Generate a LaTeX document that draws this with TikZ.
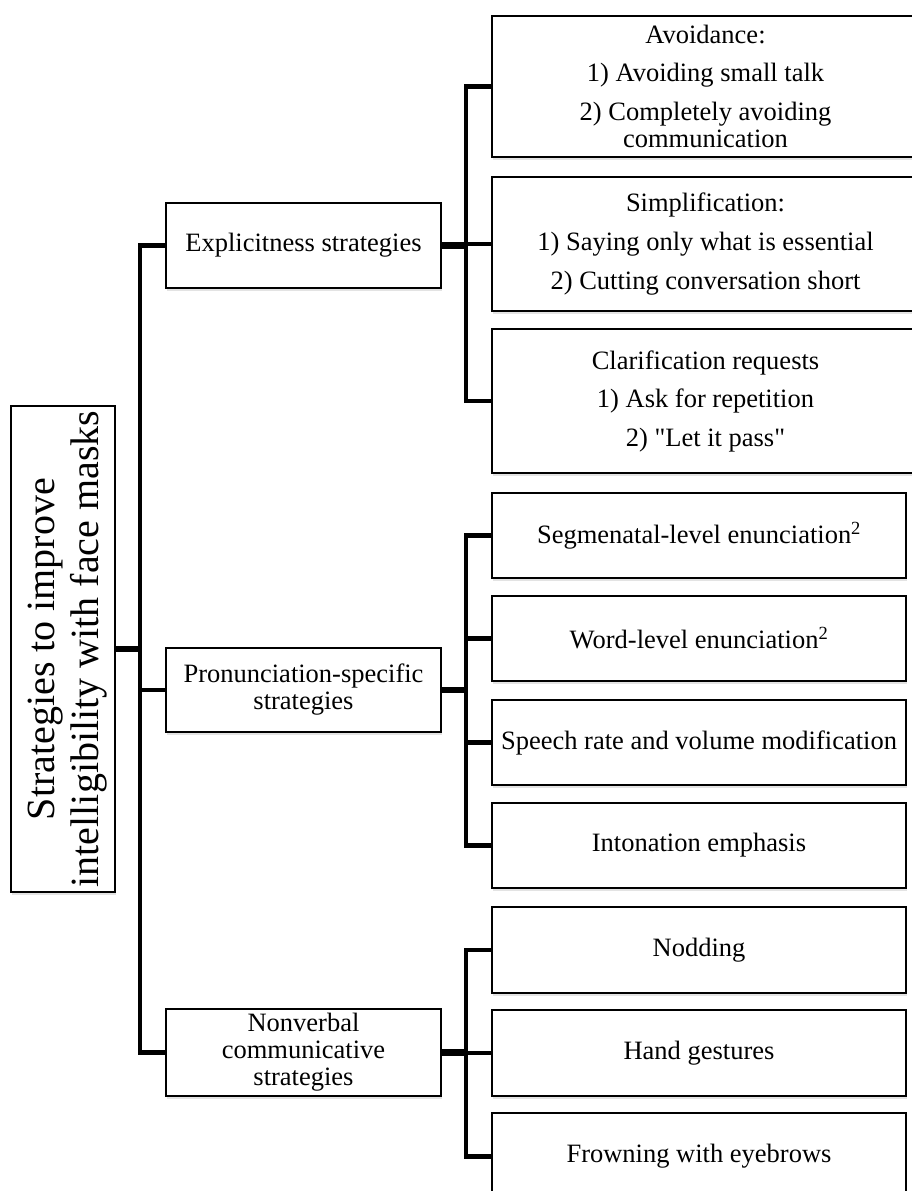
\documentclass[tikz,border=0pt]{standalone}
\usepackage{fontspec}
\setmainfont{Liberation Serif}[Ligatures=TeXOff]
\usetikzlibrary{shadows,backgrounds}
\begin{document}
\begin{tikzpicture}[x=1pt,y=-1pt,
  box/.style={draw=black, line width=1.3pt, fill=white, inner sep=2pt, align=center,
    font=\fontsize{26.5}{27}\selectfont,
    drop shadow={shadow xshift=1pt, shadow yshift=-2.5pt, opacity=0.22}},
  lone/.style={box, minimum width=275pt},
  ltop/.style={box, minimum width=427pt},
  lbot/.style={box, minimum width=414pt},
  stem/.style={line width=6.5pt},
  bus/.style={line width=4.5pt, line join=miter}]
\useasboundingbox (0,0) rectangle (912,1191);

% root
\node[box, minimum width=104pt, minimum height=486pt] (root) at (63,649) {};
\node[rotate=90, align=center, font=\fontsize{40}{44}\selectfont] (roottext) at ([xshift=5pt]root.center)
  {Strategies to improve\\intelligibility with face masks};

% level 1
\node[lone, minimum height=85pt] (exp) at (303.5,245.5) {Explicitness strategies};
\node[lone, minimum height=84pt] (pro) at (303.5,690) {Pronunciation-specific\\strategies};
\node[lone, minimum height=87pt] (non) at (303.5,1052.5) {Nonverbal\\communicative\\strategies};

% level 2 (explicitness)
\node[ltop, minimum height=141pt] (avoid) at (705.5,86.5)
  {Avoidance:\\[11pt]1) Avoiding small talk\\[11.5pt]2) Completely avoiding\\communication};
\node[ltop, minimum height=134pt] (simp) at (705.5,244)
  {Simplification:\\[12pt]1) Saying only what is essential\\[12pt]2) Cutting conversation short};
\node[ltop, minimum height=144pt] (clar) at (705.5,401)
  {Clarification requests\\[11.5pt]1) Ask for repetition\\[11.5pt]2) "Let it pass"};

% level 2 (pronunciation)
\node[lbot, minimum height=85pt] (seg) at (699,535.5) {Segmenatal-level enunciation\textsuperscript{2}};
\node[lbot, minimum height=85pt] (word) at (699,638.5) {Word-level enunciation\textsuperscript{2}};
\node[lbot, minimum height=85pt] (speech) at (699,742.5) {Speech rate and volume modification};
\node[lbot, minimum height=85pt] (inton) at (699,845.5) {Intonation emphasis};

% level 2 (nonverbal)
\node[lbot, minimum height=86pt] (nod) at (699,950) {Nodding};
\node[lbot, minimum height=86pt] (hand) at (699,1053) {Hand gestures};
\node[lbot, minimum height=87pt] (frown) at (699,1156.5) {Frowning with eyebrows};

\coordinate (t) at (140,0);
\coordinate (b) at (466,0);

\begin{scope}[on background layer]
  \draw[stem] (root.east) -- (root.east -| t);
  \draw[bus] (exp.west) -- (exp.west -| t) -- (non.west -| t) -- (non.west);
  \draw[bus] (pro.west) -- (pro.west -| t);

  \draw[stem] (exp.east) -- (exp.east -| b);
  \draw[bus] (avoid.west) -- (avoid.west -| b) -- (clar.west -| b) -- (clar.west);
  \draw[bus] (simp.west) -- (simp.west -| b);

  \draw[stem] (pro.east) -- (pro.east -| b);
  \draw[bus] (seg.west) -- (seg.west -| b) -- (inton.west -| b) -- (inton.west);
  \draw[bus] (word.west) -- (word.west -| b);
  \draw[bus] (speech.west) -- (speech.west -| b);

  \draw[stem] (non.east) -- (non.east -| b);
  \draw[bus] (nod.west) -- (nod.west -| b) -- (frown.west -| b) -- (frown.west);
  \draw[bus] (hand.west) -- (hand.west -| b);
\end{scope}
\end{tikzpicture}
\end{document}
